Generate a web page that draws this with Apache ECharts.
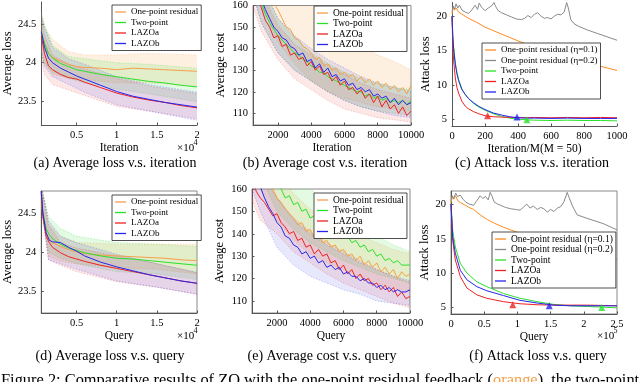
<!DOCTYPE html>
<html><head><meta charset="utf-8">
<script src="https://cdn.jsdelivr.net/npm/echarts@6/dist/echarts.min.js"></script>
<style>html,body{margin:0;padding:0;background:#fff}#c{width:640px;height:382px}</style>
</head><body><div id="c"></div>
<script>
// ---------- (a) Average loss vs iteration ----------
const aIter = [600, 1000, 1500, 2000, 3000, 4000, 5000, 6000, 8000, 10000, 12000, 14000, 16000, 18000, 20000];
const aOnePoint = [24.38, 24.25, 24.12, 24.07, 24.02, 23.98, 23.95, 23.94, 23.93, 23.91, 23.93, 23.92, 23.91, 23.90, 23.89];
const aTwoPoint = [24.40, 24.25, 24.12, 24.06, 23.99, 23.95, 23.91, 23.89, 23.85, 23.82, 23.79, 23.76, 23.74, 23.71, 23.69];
const aLAZOa = [24.35, 24.12, 23.96, 23.91, 23.85, 23.81, 23.79, 23.75, 23.68, 23.61, 23.56, 23.52, 23.49, 23.45, 23.42];
const aLAZOb = [24.40, 24.20, 24.06, 24.00, 23.93, 23.88, 23.83, 23.79, 23.71, 23.63, 23.57, 23.53, 23.49, 23.46, 23.43];
const aBandIter = [600, 1000, 2000, 4000, 6000, 10000, 14000, 20000];
const aOnePointLo = [24.15, 24.00, 23.85, 23.80, 23.78, 23.74, 23.74, 23.70];
const aOnePointHi = [24.62, 24.45, 24.30, 24.14, 24.10, 24.10, 24.12, 24.10];
const aTwoPointLo = [24.10, 23.98, 23.88, 23.80, 23.74, 23.66, 23.60, 23.50];
const aTwoPointHi = [24.65, 24.50, 24.22, 24.08, 24.05, 24.00, 23.98, 23.93];
const aLAZOaLo = [24.05, 23.85, 23.72, 23.65, 23.58, 23.44, 23.38, 23.28];
const aLAZOaHi = [24.60, 24.35, 24.10, 23.98, 23.92, 23.80, 23.70, 23.60];
const aLAZObLo = [24.15, 23.95, 23.82, 23.72, 23.62, 23.46, 23.38, 23.26];
const aLAZObHi = [24.62, 24.45, 24.20, 24.05, 23.98, 23.82, 23.72, 23.62];

// ---------- (b) Average cost vs iteration ----------
const bIter = [500,750,1000,1250,1500,1750,2000,2250,2500,2750,3000,3250,3500,3750,4000,4250,4500,4750,5000,5250,5500,5750,6000,6250,6500,6750,7000,7250,7500,7750,8000,8250,8500,8750,9000,9250,9500,9750,10000];
const bOnePoint = [190,182,176,170,166,161,158,154,150,149,145,144,141,140,138,135,136,132,133,130,131,128,129,127,128,125,127,124,126,123,125,122,124,121,123,120,122,119,123];
const bTwoPoint = [174,167,161,156,152,149,146,144,142,140,138,137,135,134,132,131,129,129,127,126,125,124,123,122,121,120,120,118,119,117,118,116,117,115,116,115,116,114,116];
const bLAZOa = [172,165,159,153,150,145,146,141,142,137,138,135,136,132,134,130,132,128,129,125,127,123,125,121,122,119,121,117,119,115,118,113,116,112,114,110,113,109,111];
const bLAZOb = [175,168,163,158,154,150,148,145,144,141,140,137,138,134,135,131,133,129,131,127,128,125,126,123,124,121,122,120,121,118,119,117,118,115,117,114,116,114,115];
const bBandIter = [500, 1000, 2000, 3000, 4000, 5000, 6000, 7000, 8000, 9000, 10000];
const bOnePointLo = [178, 160, 143, 133, 125, 120, 117, 115, 113, 112, 111];
const bOnePointHi = [205, 195, 185, 175, 165, 158, 150, 142, 137, 134, 130];
const bTwoPointLo = [165, 152, 138, 130, 125, 120, 116, 113, 111, 110, 109];
const bTwoPointHi = [185, 170, 154, 145, 138, 133, 129, 126, 124, 122, 121];
const bLAZOaLo = [160, 148, 135, 126, 121, 116, 112, 110, 108, 107, 106];
const bLAZOaHi = [180, 166, 151, 142, 137, 132, 128, 124, 121, 119, 117];
const bLAZObLo = [165, 152, 138, 130, 125, 120, 116, 113, 111, 109, 108];
const bLAZObHi = [185, 170, 154, 146, 140, 135, 131, 127, 124, 122, 120];

// ---------- (c) Attack loss vs iteration ----------
const cIter = [0, 5, 10, 20, 30, 40, 60, 80, 100, 130, 160, 200, 250, 300, 350, 400, 450, 500, 600, 700, 800, 900, 1000];
const cTwoPoint = [20.0, 17.2, 15.4, 13.2, 11.8, 10.8, 9.4, 8.6, 8.0, 7.3, 6.8, 6.3, 5.8, 5.4, 5.15, 5.0, 4.9, 4.85, 4.8, 4.85, 4.8, 4.8, 4.75];
const cLAZOa = [20.0, 15.5, 13.5, 11.0, 9.6, 8.8, 7.6, 6.9, 6.5, 6.1, 5.8, 5.5, 5.35, 5.3, 5.25, 5.25, 5.2, 5.25, 5.2, 5.25, 5.2, 5.25, 5.2];
const cLAZOb = [20.0, 17.0, 15.2, 13.0, 11.6, 10.6, 9.3, 8.6, 8.0, 7.4, 6.9, 6.4, 5.9, 5.6, 5.35, 5.2, 5.15, 5.15, 5.1, 5.15, 5.1, 5.1, 5.1];
const cEta1Iter = [0, 8, 15, 25, 40, 60, 80, 100, 150, 200, 250, 300, 350, 400, 500, 600, 700, 800, 900, 1000];
const cEta1 = [20.3, 21.4, 20.9, 21.2, 20.6, 20.3, 20.0, 19.7, 19.1, 18.4, 17.9, 17.4, 16.9, 16.4, 15.5, 14.7, 14.0, 13.3, 12.7, 12.1];
const cEta2Iter = [0,8,15,25,35,45,60,80,100,120,140,155,165,180,200,220,240,255,265,280,300,330,360,390,420,440,460,480,500,520,540,560,580,600,620,640,660,680,695,705,720,740,770,820,880,940,1000];
const cEta2 = [20.6,21.5,21.0,21.8,21.2,21.6,20.9,20.6,20.4,20.9,21.6,21.0,21.9,21.3,20.8,21.2,21.5,22.0,21.4,20.8,20.5,20.2,19.9,19.6,19.5,19.7,20.1,19.8,20.3,20.5,20.0,19.7,19.8,19.6,20.0,20.3,20.2,20.6,22.0,21.2,19.5,18.9,18.5,18.0,17.5,17.0,16.5];
const cMarkIter = [216, 394, 454];
const cMarkLoss = [5.5, 5.3, 4.9];

// ---------- (d) Average loss vs query ----------
const dQuery = [600, 800, 1200, 1600, 2000, 3000, 4000, 5000, 6000, 8000, 10000, 12000, 14000, 16000, 18000, 20000];
const dOnePoint = [24.75, 24.45, 24.22, 24.16, 24.12, 24.07, 24.03, 24.00, 23.98, 23.96, 23.95, 23.94, 23.93, 23.92, 23.90, 23.89];
const dTwoPoint = [24.75, 24.50, 24.30, 24.22, 24.17, 24.10, 24.05, 24.02, 23.99, 23.95, 23.92, 23.91, 23.89, 23.87, 23.85, 23.83];
const dLAZOa = [24.78, 24.45, 24.20, 24.12, 24.06, 23.99, 23.94, 23.91, 23.88, 23.83, 23.79, 23.75, 23.71, 23.67, 23.63, 23.60];
const dLAZOb = [24.78, 24.50, 24.25, 24.15, 24.13, 24.12, 24.06, 24.01, 23.95, 23.87, 23.81, 23.76, 23.71, 23.67, 23.63, 23.60];
const dBandQuery = [600, 1500, 3000, 5000, 10000, 15000, 20000];
const dOnePointLo = [24.60, 23.95, 23.88, 23.85, 23.80, 23.78, 23.72];
const dOnePointHi = [24.85, 24.35, 24.20, 24.12, 24.10, 24.10, 24.10];
const dTwoPointLo = [24.60, 24.00, 23.92, 23.85, 23.75, 23.72, 23.65];
const dTwoPointHi = [24.85, 24.45, 24.30, 24.20, 24.12, 24.10, 24.07];
const dLAZOaLo = [24.60, 23.90, 23.83, 23.75, 23.62, 23.55, 23.46];
const dLAZOaHi = [24.85, 24.35, 24.12, 24.05, 23.95, 23.85, 23.73];
const dLAZObLo = [24.60, 23.90, 23.85, 23.78, 23.63, 23.55, 23.46];
const dLAZObHi = [24.85, 24.40, 24.20, 24.12, 23.97, 23.85, 23.74];

// ---------- (e) Average cost vs query ----------
const eQuery = [500,750,1000,1250,1500,1750,2000,2250,2500,2750,3000,3250,3500,3750,4000,4250,4500,4750,5000,5250,5500,5750,6000,6250,6500,6750,7000,7250,7500,7750,8000,8250,8500,8750,9000,9250,9500,9750,10000];
const eOnePoint = [185,177,172,167,163,160,156,154,151,149,147,144,145,141,142,138,139,136,137,134,135,132,133,130,131,128,130,126,128,125,127,123,125,122,124,120,123,121,122];
const eTwoPoint = [190,184,179,174,170,167,163,160,156,157,153,154,150,151,147,148,145,146,143,143,140,141,138,139,136,137,134,135,132,133,130,131,128,129,127,128,126,126,126];
const eLAZOa = [166,159,156,154,151,148,149,145,143,140,141,137,138,134,135,131,133,130,131,127,128,124,126,122,124,120,122,119,120,117,118,115,117,114,116,112,114,111,112];
const eLAZOb = [172,166,161,156,152,149,145,143,139,138,135,134,131,132,129,130,127,128,125,126,124,125,122,123,121,121,119,120,118,118,116,117,115,116,114,115,114,114,115];
const eBandQuery = [500, 1000, 2000, 3000, 4000, 5000, 6000, 7000, 8000, 9000, 10000];
const eOnePointLo = [172, 160, 146, 137, 131, 127, 124, 121, 118, 116, 114];
const eOnePointHi = [200, 185, 168, 158, 151, 146, 142, 139, 136, 133, 131];
const eTwoPointLo = [178, 166, 150, 142, 136, 132, 128, 125, 122, 120, 118];
const eTwoPointHi = [205, 195, 178, 168, 160, 154, 149, 144, 139, 135, 132];
const eLAZOaLo = [155, 146, 140, 132, 127, 122, 118, 115, 112, 109, 107];
const eLAZOaHi = [178, 168, 156, 147, 141, 136, 132, 128, 124, 121, 118];
const eLAZObLo = [160, 150, 134, 126, 121, 118, 115, 113, 110, 109, 108];
const eLAZObHi = [182, 172, 156, 146, 140, 135, 131, 127, 124, 121, 119];

// ---------- (f) Attack loss vs query ----------
const fQuery = [0, 2500, 6500, 14000, 24000, 39000, 54000, 79000, 104000, 130000, 155000, 180000, 205000, 230000, 250000];
const fTwoPoint = [20.1, 16.3, 13.8, 11.4, 10.0, 8.7, 8.0, 7.0, 6.3, 5.8, 5.4, 5.2, 5.1, 5.0, 4.9];
const fLAZOa = [20.1, 14.8, 11.9, 9.5, 7.8, 6.8, 6.3, 5.8, 5.5, 5.35, 5.3, 5.3, 5.3, 5.25, 5.2];
const fLAZOb = [20.1, 15.3, 12.9, 10.4, 9.0, 8.0, 7.4, 6.7, 6.0, 5.6, 5.3, 5.2, 5.2, 5.2, 5.2];
const fEta1Query = [0, 2000, 4000, 7000, 10000, 14000, 20000, 27000, 34000, 44000, 55000, 65000, 79000, 90000, 110000, 130000, 150000, 170000, 190000, 210000, 230000, 250000];
const fEta1 = [20.3, 21.2, 20.8, 21.3, 20.6, 20.3, 20.0, 19.6, 19.3, 18.5, 17.8, 17.3, 16.7, 16.3, 15.6, 14.9, 14.3, 13.7, 13.2, 12.7, 12.3, 12.0];
const fEta2Query = [0,2000,4000,7000,10000,14000,18000,22000,27000,34000,39000,44000,48000,52000,56000,59000,62000,65000,70000,75000,82000,90000,97000,104000,109000,114000,119000,124000,130000,135000,140000,145000,150000,155000,160000,165000,170000,175000,178000,183000,190000,205000,230000,250000];
const fEta2 = [20.6,21.3,20.9,21.7,21.2,21.4,20.8,20.4,20.1,19.9,20.6,21.3,20.9,21.2,20.7,21.8,21.2,20.4,20.1,19.9,19.6,19.4,19.3,19.2,19.6,20.1,19.5,19.8,19.3,19.6,19.4,18.9,19.3,19.0,19.5,19.7,20.4,21.8,21.0,19.8,18.5,18.0,17.2,16.3];
const fMarkQuery = [93000, 148000, 227000];
const fMarkLoss = [5.35, 5.2, 4.95];

// ---------- ticks ----------
const lossYTicks = [23.5, 24, 24.5];
const lossYLabels = ['23.5', '24', '24.5'];
const lossXTicks = [5000, 10000, 15000, 20000];
const lossXLabels = ['0.5', '1', '1.5', '2'];
const costYTicks = [110, 120, 130, 140, 150, 160];
const costYLabels = ['110', '120', '130', '140', '150', '160'];
const costXTicks = [2000, 4000, 6000, 8000, 10000];
const costXLabels = ['2000', '4000', '6000', '8000', '10000'];
const atkYTicks = [5, 10, 15, 20];
const atkYLabels = ['5', '10', '15', '20'];
const atkIterTicks = [0, 200, 400, 600, 800, 1000];
const atkIterLabels = ['0', '200', '400', '600', '800', '1000'];
const atkQueryTicks = [0, 50000, 100000, 150000, 200000, 250000];
const atkQueryLabels = ['0', '0.5', '1', '1.5', '2', '2.5'];

const FONT = "'Liberation Serif', 'Times New Roman', serif";
const COL = {orange: '#F5A04A', orange2: '#FF8A1C', green: '#2BE02B', red: '#EE2222', blue: '#2626EE', gray: '#8A8A8A'};
const BAND = {orange: 'rgba(250,165,80,0.17)', green: 'rgba(80,225,80,0.16)', red: 'rgba(240,80,80,0.13)', blue: 'rgba(80,80,240,0.13)'};
const EDGE = {orange: 'rgba(250,165,80,0.45)', green: 'rgba(80,225,80,0.45)', red: 'rgba(240,80,80,0.4)', blue: 'rgba(80,80,240,0.4)'};

const GRIDS = [
  {left: 33, top: 2, width: 164, height: 123, show: false},
  {left: 253, top: 4, width: 158, height: 121, show: true},
  {left: 452, top: 2.5, width: 165, height: 123.5, show: false},
  {left: 33, top: 191, width: 164, height: 122, show: true},
  {left: 252, top: 189, width: 158, height: 124, show: true},
  {left: 451, top: 191, width: 166, height: 123, show: true}
];

function lbl(ticks, labels) {
  return v => { for (let i = 0; i < ticks.length; i++) if (Math.abs(ticks[i] - v) < 1e-6) return labels[i]; return ''; };
}
function xAx(gi, min, max, ticks, labels, name, gap) {
  return {type: 'value', gridIndex: gi, min, max, position: 'bottom',
    axisLine: {show: true, onZero: false, lineStyle: {color: '#555', width: 1}},
    axisTick: {show: true, inside: true, length: 2.5, customValues: ticks, lineStyle: {color: '#555'}},
    axisLabel: {customValues: ticks, formatter: lbl(ticks, labels), color: '#000', fontFamily: FONT, fontSize: 10.5, margin: 5},
    splitLine: {show: false}, name, nameLocation: 'middle', nameGap: gap,
    nameTextStyle: {color: '#000', fontFamily: FONT, fontSize: 11.5}};
}
function yAx(gi, min, max, ticks, labels, name, gap) {
  return {type: 'value', gridIndex: gi, min, max, position: 'left',
    axisLine: {show: true, onZero: false, lineStyle: {color: '#555', width: 1}},
    axisTick: {show: true, inside: true, length: 2.5, customValues: ticks, lineStyle: {color: '#555'}},
    axisLabel: {customValues: ticks, formatter: lbl(ticks, labels), color: '#000', fontFamily: FONT, fontSize: 10.5, margin: 5},
    splitLine: {show: false}, name, nameLocation: 'middle', nameGap: gap,
    nameTextStyle: {color: '#000', fontFamily: FONT, fontSize: 12.5}};
}
function line(name, gi, xs, ys, color) {
  return {type: 'line', name, xAxisIndex: gi, yAxisIndex: gi, data: xs.map((x, k) => [x, ys[k]]),
    symbol: 'none', showSymbol: false, lineStyle: {color, width: 1}, itemStyle: {color}, z: 3, clip: true, silent: true};
}
function band(id, gi, xs, lo, hi, key) {
  return {type: 'custom', id, xAxisIndex: gi, yAxisIndex: gi, clip: true, silent: true, z: 1,
    data: xs.map((x, k) => [x, lo[k], hi[k]]), encode: {x: 0, y: [1, 2]},
    renderItem: (params, api) => {
      if (params.dataIndex !== 0) return null;
      const up = [], dn = [];
      for (let k = 0; k < xs.length; k++) { up.push(api.coord([xs[k], hi[k]])); dn.push(api.coord([xs[k], lo[k]])); }
      const pts = up.concat(dn.slice().reverse());
      const cs = params.coordSys;
      const edge = {stroke: EDGE[key], lineWidth: 0.8, lineDash: [1.5, 1.5], fill: null};
      return {type: 'group', children: [
          {type: 'polygon', shape: {points: pts}, style: {fill: BAND[key]}},
          {type: 'polyline', shape: {points: up}, style: edge},
          {type: 'polyline', shape: {points: dn}, style: edge}],
        clipPath: {type: 'rect', shape: {x: cs.x, y: cs.y, width: cs.width, height: cs.height}}};
    }};
}
function marks(gi, xs, ys, colors) {
  return {type: 'scatter', xAxisIndex: gi, yAxisIndex: gi, symbol: 'triangle', symbolSize: 7, z: 5, silent: true,
    data: xs.map((x, k) => ({value: [x, ys[k]], itemStyle: {color: colors[k]}}))};
}
function legend(left, top, names, fs) {
  return {show: true, orient: 'vertical', left, top, data: names.map(n => ({name: n, icon: 'rect'})),
    itemWidth: 11, itemHeight: 1.3, itemGap: 0.5,
    padding: [2, 3, 2, 3], borderColor: '#222', borderWidth: 0.8, backgroundColor: '#fff', borderRadius: 0,
    selectedMode: false, textStyle: {fontFamily: FONT, fontSize: fs, color: '#000', lineHeight: 10}};
}

const N1 = 'One-point residual', N2 = 'Two-point', NA = 'LAZOa', NB = 'LAZOb';
const E1 = 'One-point residual (η=0.1)', E2 = 'One-point residual (η=0.2)';

const series = [
  // (a)
  band('a1', 0, aBandIter, aOnePointLo, aOnePointHi, 'orange'),
  band('a2', 0, aBandIter, aTwoPointLo, aTwoPointHi, 'green'),
  band('a3', 0, aBandIter, aLAZOaLo, aLAZOaHi, 'red'),
  band('a4', 0, aBandIter, aLAZObLo, aLAZObHi, 'blue'),
  line(N1, 0, aIter, aOnePoint, COL.orange), line(N2, 0, aIter, aTwoPoint, COL.green),
  line(NA, 0, aIter, aLAZOa, COL.red), line(NB, 0, aIter, aLAZOb, COL.blue),
  // (b)
  band('b1', 1, bBandIter, bOnePointLo, bOnePointHi, 'orange'),
  band('b2', 1, bBandIter, bTwoPointLo, bTwoPointHi, 'green'),
  band('b3', 1, bBandIter, bLAZOaLo, bLAZOaHi, 'red'),
  band('b4', 1, bBandIter, bLAZObLo, bLAZObHi, 'blue'),
  line(N1, 1, bIter, bOnePoint, COL.orange), line(N2, 1, bIter, bTwoPoint, COL.green),
  line(NA, 1, bIter, bLAZOa, COL.red), line(NB, 1, bIter, bLAZOb, COL.blue),
  // (c)
  line(E1, 2, cEta1Iter, cEta1, COL.orange2), line(E2, 2, cEta2Iter, cEta2, COL.gray),
  line(N2, 2, cIter, cTwoPoint, COL.green), line(NA, 2, cIter, cLAZOa, COL.red), line(NB, 2, cIter, cLAZOb, COL.blue),
  marks(2, cMarkIter, cMarkLoss, [COL.red, COL.blue, COL.green]),
  // (d)
  band('d1', 3, dBandQuery, dOnePointLo, dOnePointHi, 'orange'),
  band('d2', 3, dBandQuery, dTwoPointLo, dTwoPointHi, 'green'),
  band('d3', 3, dBandQuery, dLAZOaLo, dLAZOaHi, 'red'),
  band('d4', 3, dBandQuery, dLAZObLo, dLAZObHi, 'blue'),
  line(N1, 3, dQuery, dOnePoint, COL.orange), line(N2, 3, dQuery, dTwoPoint, COL.green),
  line(NA, 3, dQuery, dLAZOa, COL.red), line(NB, 3, dQuery, dLAZOb, COL.blue),
  // (e)
  band('e1', 4, eBandQuery, eOnePointLo, eOnePointHi, 'orange'),
  band('e2', 4, eBandQuery, eTwoPointLo, eTwoPointHi, 'green'),
  band('e3', 4, eBandQuery, eLAZOaLo, eLAZOaHi, 'red'),
  band('e4', 4, eBandQuery, eLAZObLo, eLAZObHi, 'blue'),
  line(N1, 4, eQuery, eOnePoint, COL.orange), line(N2, 4, eQuery, eTwoPoint, COL.green),
  line(NA, 4, eQuery, eLAZOa, COL.red), line(NB, 4, eQuery, eLAZOb, COL.blue),
  // (f)
  line(E1, 5, fEta1Query, fEta1, COL.orange2), line(E2, 5, fEta2Query, fEta2, COL.gray),
  line(N2, 5, fQuery, fTwoPoint, COL.green), line(NA, 5, fQuery, fLAZOa, COL.red), line(NB, 5, fQuery, fLAZOb, COL.blue),
  marks(5, fMarkQuery, fMarkLoss, [COL.red, COL.blue, COL.green])
];

function txt(x, y, s, fs, align) {
  return {type: 'text', x, y, z: 10, silent: true,
    style: {text: s, fill: '#000', font: fs + 'px ' + FONT, textAlign: align || 'left', textVerticalAlign: 'middle'}};
}
const graphics = [
  txt(115, 163, '(a) Average loss v.s. iteration', 14, 'center'),
  txt(325, 163, '(b) Average cost v.s. iteration', 14, 'center'),
  txt(532, 163, '(c) Attack loss v.s. iteration', 14, 'center'),
  txt(110, 356, '(d) Average loss v.s. query', 14, 'center'),
  txt(322, 356, '(e) Average cost v.s. query', 14, 'center'),
  txt(538, 356, '(f) Attack loss v.s. query', 14, 'center'),
  txt(177, 148, '×10', 11), txt(193.5, 142.5, '4', 8),
  txt(177, 336, '×10', 11), txt(193.5, 330.5, '4', 8),
  txt(597, 336, '×10', 11), txt(613.5, 330.5, '5', 8),
  {type: 'text', x: 1, y: 373, z: 10, silent: true,
    style: {text: 'Figure 2: Comparative results of ZO with the one-point residual feedback ({o|orange}), the two-point',
      fill: '#000', font: '16.4px ' + FONT, textVerticalAlign: 'top',
      rich: {o: {fill: '#F5A04A', font: '16.4px ' + FONT}}}}
];

const chart = echarts.init(document.getElementById('c'), null, {renderer: 'canvas'});
chart.setOption({
  animation: false,
  backgroundColor: '#fff',
  grid: GRIDS.map(g => ({left: g.left, top: g.top, width: g.width, height: g.height, show: g.show,
    borderColor: '#8a8a8a', borderWidth: 1, backgroundColor: 'transparent', containLabel: false})),
  xAxis: [
    xAx(0, 600, 20000, lossXTicks, lossXLabels, 'Iteration', 15),
    xAx(1, 500, 10000, costXTicks, costXLabels, 'Iteration', 15),
    xAx(2, 0, 1000, atkIterTicks, atkIterLabels, 'Iteration/M(M = 50)', 14),
    xAx(3, 600, 20000, lossXTicks, lossXLabels, 'Query', 14),
    xAx(4, 500, 10000, costXTicks, costXLabels, 'Query', 14),
    xAx(5, 0, 250000, atkQueryTicks, atkQueryLabels, 'Query', 14)
  ],
  yAxis: [
    yAx(0, 23.2, 24.78, lossYTicks, lossYLabels, 'Average loss', 19),
    yAx(1, 104.6, 160, costYTicks, costYLabels, 'Average cost', 26),
    yAx(2, 4, 22, atkYTicks, atkYLabels, 'Attack loss', 14),
    yAx(3, 23.22, 24.78, lossYTicks, lossYLabels, 'Average loss', 19),
    yAx(4, 104.6, 160, costYTicks, costYLabels, 'Average cost', 26),
    yAx(5, 4, 22, atkYTicks, atkYLabels, 'Attack loss', 14)
  ],
  legend: [
    legend(112, 5, [N1, N2, NA, NB], 9),
    legend(314, 6, [N1, N2, NA, NB], 9.5),
    legend(482, 43, [E1, E2, N2, NA, NB], 9),
    legend(112, 195, [N1, N2, NA, NB], 9),
    legend(314, 193, [N1, N2, NA, NB], 9.5),
    legend(492, 232, [E1, E2, N2, NA, NB], 9.5)
  ],
  series,
  graphic: graphics
});
</script></body></html>
